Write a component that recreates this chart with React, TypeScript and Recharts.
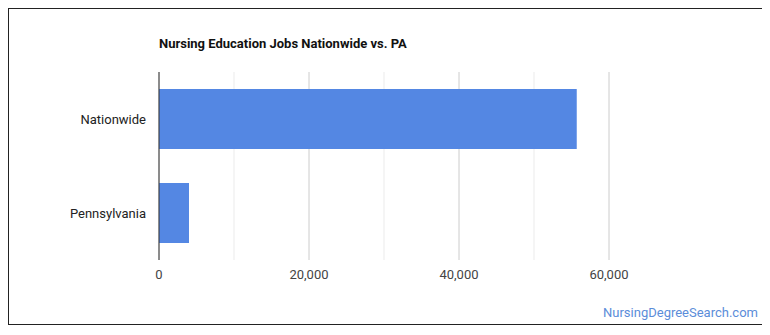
import { Bar, BarChart, CartesianGrid, XAxis, YAxis } from "recharts";

const categories = ["Nationwide", "Pennsylvania"];
const jobs = [55700, 4000];
const xTicks = [0, 10000, 20000, 30000, 40000, 50000, 60000];
const xMax = 70000;

const font = "Roboto, 'Noto Sans', Arial, sans-serif";
const barColor = "#5487e3";

const chartData = categories.map((name, i) => ({ name, jobs: jobs[i] }));

// major lines at labelled ticks, lighter minor ones between; no line at the right edge
function GridLine(props: any) {
  const { x1, x2, y1, y2, index } = props;
  if (index >= xTicks.length) return <g />;
  const major = index % 2 === 0;
  return (
    <line
      x1={x1}
      x2={x2}
      y1={y1}
      y2={y2}
      stroke={major ? "#cccccc" : "#ebebeb"}
      strokeWidth={1}
    />
  );
}

export default function App() {
  return (
    <div
      style={{
        position: "relative",
        width: 753,
        height: 315,
        border: "1px solid #222",
        fontFamily: font,
        background: "#fff",
      }}
    >
      <div
        style={{
          position: "absolute",
          left: 150,
          top: 27,
          fontSize: 13,
          fontWeight: 700,
          color: "#111",
          lineHeight: "16px",
        }}
      >
        Nursing Education Jobs Nationwide vs. PA
      </div>
      <BarChart
        width={753}
        height={315}
        data={chartData}
        layout="vertical"
        margin={{ top: 63, right: 78, left: 0, bottom: 34 }}
      >
        <CartesianGrid horizontal={false} vertical={GridLine as any} />
        <XAxis
          type="number"
          domain={[0, xMax]}
          ticks={xTicks}
          tickFormatter={(v: number) => (v % 20000 === 0 ? v.toLocaleString("en-US") : "")}
          axisLine={false}
          tickLine={false}
          tickSize={0}
          tickMargin={10}
          height={30}
          tick={{ fill: "#444", fontSize: 13, fontFamily: font }}
        />
        <YAxis
          type="category"
          dataKey="name"
          width={150}
          axisLine={{ stroke: "#333" }}
          tickLine={false}
          tickSize={0}
          tickMargin={13}
          tick={{ fill: "#222", fontSize: 13, fontFamily: font }}
        />
        <Bar dataKey="jobs" fill={barColor} barSize={60} isAnimationActive={false} />
      </BarChart>
      <div
        style={{
          position: "absolute",
          right: 4,
          top: 296,
          fontSize: 13,
          color: "#5b8dd9",
          lineHeight: "16px",
        }}
      >
        NursingDegreeSearch.com
      </div>
    </div>
  );
}
